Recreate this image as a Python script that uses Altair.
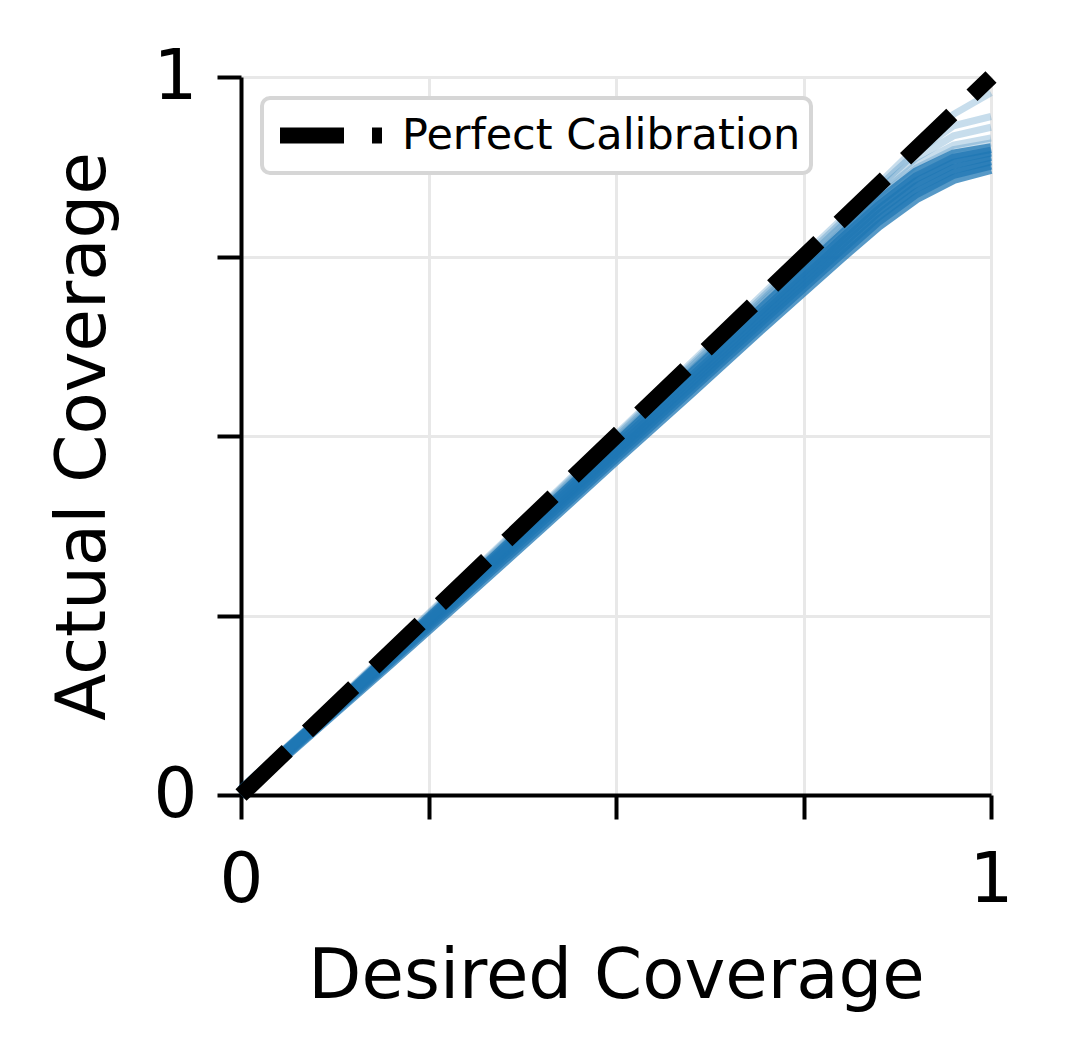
import altair as alt
import pandas as pd

# Desired coverage grid (x values shared by every calibration curve)
desired = [0.0, 0.1, 0.2, 0.3, 0.4, 0.5, 0.6, 0.7, 0.8, 0.85, 0.9, 0.95, 1.0]

# Dense core of calibration curves (actual coverage)
core_a = [0.000, 0.092, 0.184, 0.277, 0.371, 0.466, 0.560, 0.655, 0.748, 0.793, 0.831, 0.858, 0.872]
core_b = [0.001, 0.094, 0.187, 0.281, 0.375, 0.470, 0.565, 0.660, 0.754, 0.800, 0.838, 0.865, 0.878]
core_c = [0.003, 0.096, 0.190, 0.285, 0.380, 0.475, 0.570, 0.666, 0.760, 0.807, 0.846, 0.872, 0.884]
core_d = [0.004, 0.097, 0.193, 0.289, 0.385, 0.480, 0.576, 0.672, 0.767, 0.814, 0.853, 0.879, 0.890]
core_e = [0.005, 0.099, 0.195, 0.292, 0.388, 0.485, 0.581, 0.677, 0.773, 0.820, 0.860, 0.886, 0.896]
core_f = [0.006, 0.100, 0.197, 0.295, 0.392, 0.489, 0.586, 0.683, 0.779, 0.827, 0.867, 0.892, 0.901]

# Sparse, lighter curves above the core
faint_a = [0.008, 0.101, 0.199, 0.297, 0.396, 0.494, 0.592, 0.690, 0.787, 0.836, 0.878, 0.905, 0.915]
faint_b = [0.009, 0.102, 0.200, 0.299, 0.398, 0.497, 0.596, 0.694, 0.792, 0.842, 0.887, 0.918, 0.930]
faint_c = [0.010, 0.103, 0.202, 0.301, 0.400, 0.500, 0.599, 0.698, 0.797, 0.847, 0.895, 0.932, 0.945]
faint_d = [0.010, 0.104, 0.203, 0.303, 0.402, 0.502, 0.602, 0.702, 0.801, 0.851, 0.902, 0.948, 0.978]
faint_e = [0.007, 0.100, 0.198, 0.296, 0.394, 0.492, 0.590, 0.687, 0.784, 0.832, 0.873, 0.899, 0.908]

# Perfect calibration diagonal
diag_x = [0.0, 1.0]
diag_y = [0.0, 1.0]
diag_label = "Perfect Calibration"

tick_values = [0, 0.25, 0.5, 0.75, 1]


def long_frame(curves):
    rows = []
    for name, ys in curves.items():
        for x, y in zip(desired, ys):
            rows.append({"curve": name, "desired": x, "actual": y})
    return pd.DataFrame(rows)


core_df = long_frame({"a": core_a, "b": core_b, "c": core_c, "d": core_d, "e": core_e, "f": core_f})
faint_df = long_frame({"a": faint_a, "b": faint_b, "c": faint_c, "d": faint_d, "e": faint_e})
diag_df = pd.DataFrame({"desired": diag_x, "actual": diag_y, "series": [diag_label] * 2})

label_expr = "datum.value == 0 ? '0' : (datum.value == 1 ? '1' : '')"

x_enc = alt.X(
    "desired:Q",
    scale=alt.Scale(domain=[0, 1], nice=False, zero=False),
    axis=alt.Axis(values=tick_values, labelExpr=label_expr, title="Desired Coverage",
                  labelFlush=False, labelPadding=27, titlePadding=27),
)
y_enc = alt.Y(
    "actual:Q",
    scale=alt.Scale(domain=[0, 1], nice=False, zero=False),
    axis=alt.Axis(values=tick_values, labelExpr=label_expr, title="Actual Coverage",
                  labelFlush=False, labelPadding=20, titlePadding=35),
)

blue = "#1f77b4"

faint = alt.Chart(faint_df).mark_line(color=blue, strokeWidth=7, opacity=0.25).encode(
    x=x_enc, y=y_enc, detail="curve:N"
)
core = alt.Chart(core_df).mark_line(color=blue, strokeWidth=10, opacity=0.75).encode(
    x=x_enc, y=y_enc, detail="curve:N"
)
diag = alt.Chart(diag_df).mark_line(color="black", strokeWidth=16, strokeCap="butt").encode(
    x=x_enc,
    y=y_enc,
    strokeDash=alt.StrokeDash(
        "series:N",
        scale=alt.Scale(domain=[diag_label], range=[[64, 28]]),
        legend=alt.Legend(
            title=None,
            orient="none",
            legendX=21,
            legendY=21,
            symbolType="stroke",
            symbolSize=10404,
            symbolStrokeWidth=16,
            symbolStrokeColor="black",
            clipHeight=55,
            labelFontSize=43,
            labelFont="DejaVu Sans",
            labelColor="black",
            labelLimit=0,
            labelOffset=12,
            padding=10,
            cornerRadius=8,
            fillColor="white",
            strokeColor="#d6d6d6",
        ),
    ),
)

chart = (
    alt.layer(faint, core, diag)
    .properties(
        width=750,
        height=718,
        autosize=alt.AutoSizeParams(type="none"),
        padding={"left": 233, "top": 69, "right": 66, "bottom": 260},
    )
    .configure_view(stroke=None)
    .configure_legend(strokeWidth=4)
    .configure_axis(
        domainColor="black",
        domainWidth=4,
        tickColor="black",
        tickWidth=4,
        tickSize=24,
        labelFont="DejaVu Sans",
        labelFontSize=69,
        labelColor="black",
        titleFont="DejaVu Sans",
        titleFontSize=69,
        titleFontWeight="normal",
        titleColor="black",
        gridColor="#e8e8e8",
        gridWidth=3,
    )
)

chart.save("out.html", embed_options={"renderer": "svg", "actions": False})
